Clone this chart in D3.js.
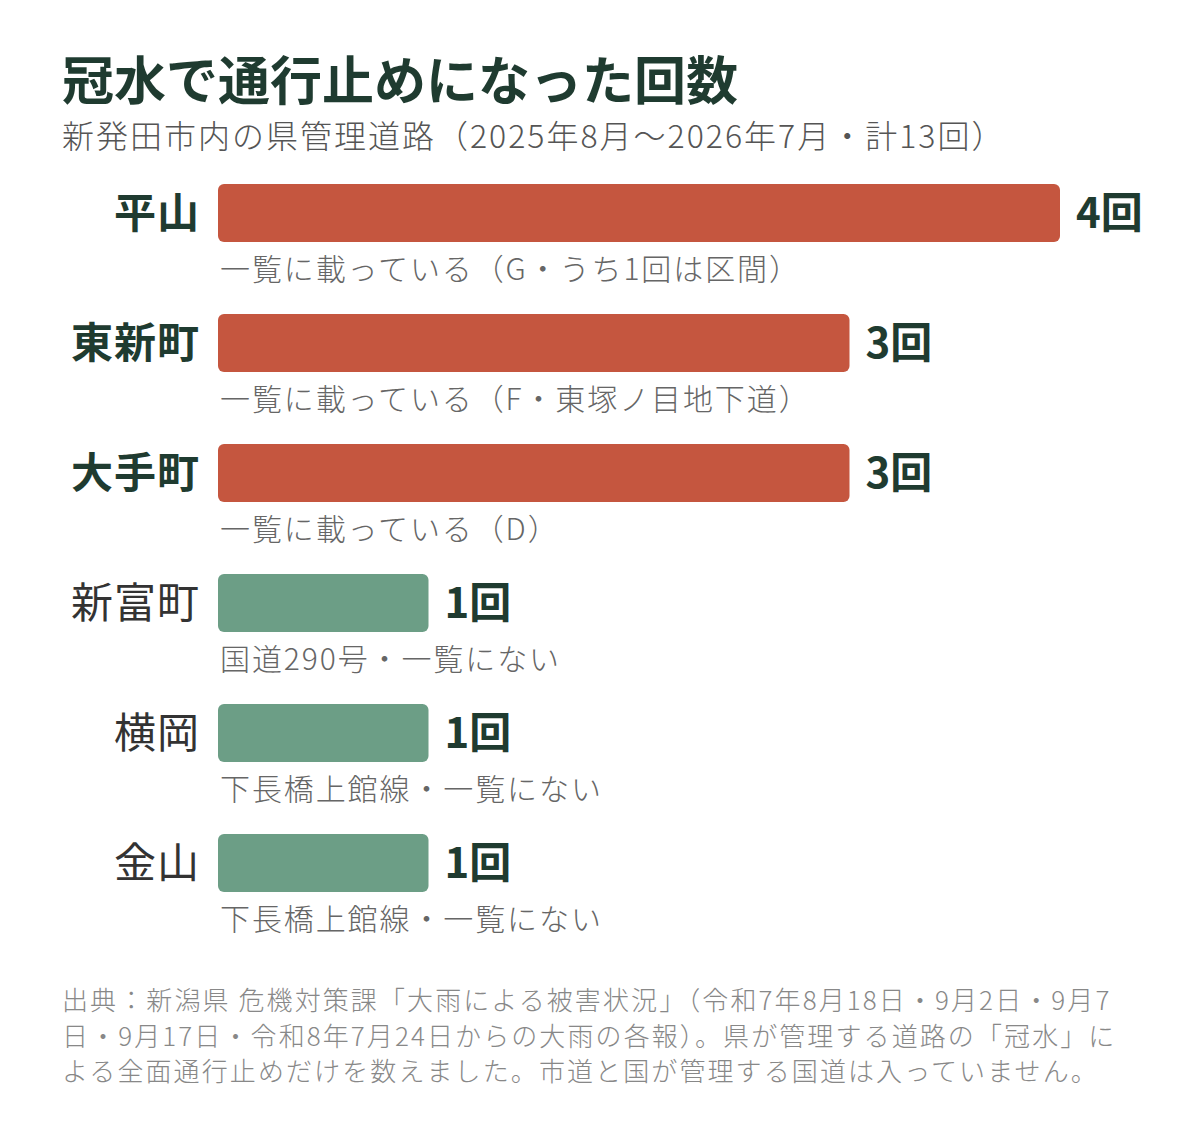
<!DOCTYPE html>
<html lang="ja">
<head>
<meta charset="utf-8">
<script src="https://cdn.jsdelivr.net/npm/d3@7"></script>
<style>
  html, body { margin: 0; padding: 0; background: #fff; }
  svg { display: block; font-family: "Noto Sans CJK JP", "Noto Sans", sans-serif; }
</style>
</head>
<body>
<svg id="chart" width="1200" height="1122"></svg>
<script>
// --- Data ---
const places = ["平山", "東新町", "大手町", "新富町", "横岡", "金山"];
const counts = [4, 3, 3, 1, 1, 1];
const listed = [true, true, true, false, false, false];
const notes = [
  "一覧に載っている（G・うち1回は区間）",
  "一覧に載っている（F・東塚ノ目地下道）",
  "一覧に載っている（D）",
  "国道290号・一覧にない",
  "下長橋上館線・一覧にない",
  "下長橋上館線・一覧にない"
];
const titleText = "冠水で通行止めになった回数";
const subtitleText = "新発田市内の県管理道路（2025年8月～2026年7月・計13回）";
const sourceLines = [
  "出典：新潟県 危機対策課「大雨による被害状況」（令和7年8月18日・9月2日・9月7",
  "日・9月17日・令和8年7月24日からの大雨の各報）。県が管理する道路の「冠水」に",
  "よる全面通行止めだけを数えました。市道と国が管理する国道は入っていません。"
];

// --- Setup ---
const svg = d3.select("#chart");
const DARK = "#1f3b30";
const RED = "#c5563f";
const GREEN = "#6c9e86";

const x = d3.scaleLinear().domain([0, 4]).range([218, 1060]);
const y = d3.scaleBand().domain(places).range([184, 184 + 130 * places.length]);
const BAR_H = 58;

svg.append("text")
  .attr("x", 62).attr("y", 100)
  .attr("font-size", 52).attr("font-weight", 700)
  .attr("fill", DARK)
  .text(titleText);

svg.append("text")
  .attr("x", 62).attr("y", 148)
  .attr("font-size", 32).attr("font-weight", 300)
  .attr("letter-spacing", 2)
  .attr("fill", "#555")
  .text(subtitleText);

const rows = svg.selectAll(".row")
  .data(places.map((p, i) => ({ place: p, count: counts[i], listed: listed[i], note: notes[i] })))
  .enter().append("g")
  .attr("class", "row")
  .attr("transform", d => `translate(0,${y(d.place)})`);

rows.append("rect")
  .attr("x", x(0))
  .attr("y", 0)
  .attr("width", d => x(d.count) - x(0))
  .attr("height", BAR_H)
  .attr("rx", 6)
  .attr("fill", d => d.listed ? RED : GREEN);

rows.append("text")
  .attr("x", 200)
  .attr("y", BAR_H / 2 + 15)
  .attr("text-anchor", "end")
  .attr("font-size", 42)
  .attr("letter-spacing", 1)
  .attr("font-weight", d => d.listed ? 700 : 400)
  .attr("fill", d => d.listed ? DARK : "#333")
  .text(d => d.place);

rows.append("text")
  .attr("x", d => x(d.count) + 16)
  .attr("y", BAR_H / 2 + 15)
  .attr("font-size", 42)
  .attr("font-weight", 700)
  .attr("fill", DARK)
  .text(d => d.count + "回");

rows.append("text")
  .attr("x", 220)
  .attr("y", 96)
  .attr("font-size", 30)
  .attr("font-weight", 300)
  .attr("letter-spacing", 1.9)
  .attr("fill", "#666")
  .text(d => d.note);

svg.append("g")
  .selectAll("text")
  .data(sourceLines)
  .enter().append("text")
  .attr("x", 62)
  .attr("y", (d, i) => 1010 + i * 35.5)
  .attr("font-size", 26)
  .attr("font-weight", 300)
  .attr("letter-spacing", 2.1)
  .attr("fill", "#888")
  .text(d => d);
</script>
</body>
</html>
